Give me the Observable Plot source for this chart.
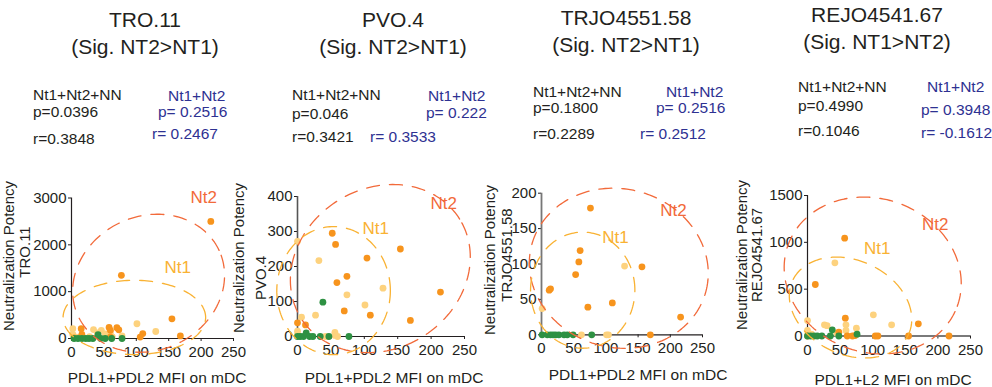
<!DOCTYPE html>
<html>
<head>
<meta charset="utf-8">
<script src="https://cdn.jsdelivr.net/npm/d3@7"></script>
<script src="https://cdn.jsdelivr.net/npm/@observablehq/plot@0.6"></script>
<style>
  html, body { margin: 0; padding: 0; background: #fff; }
  #root { position: relative; width: 992px; height: 387px; overflow: hidden; font-family: "Liberation Sans", Arial, sans-serif; color: #231F20; }
  .t { position: absolute; white-space: nowrap; line-height: 18px; }
  .title { font-size: 21px; transform: translate(-50%, -50%); line-height: 24px; }
  .st { font-size: 15.5px; transform: translateY(-50%); line-height: 14px; }
  .blue { color: #2E3192; }
  .rot { font-size: 15px; transform: translate(-50%, -50%) rotate(-90deg); }
  .xl { font-size: 15.5px; transform: translate(-50%, -50%); }
</style>
</head>
<body>
<div id="root"></div>
<script>
// ---------- data ----------
const panelNames = ["TRO.11", "PVO.4", "TRJO4551.58", "REJO4541.67"];
const sigLabels = ["(Sig. NT2>NT1)", "(Sig. NT2>NT1)", "(Sig. NT2>NT1)", "(Sig. NT1>NT2)"];
const xAxisTitles = ["PDL1+PDL2 MFI on mDC", "PDL1+PDL2 MFI on mDC", "PDL1+PDL2 MFI on mDC", "PDL1+L2 MFI on mDC"];
const allP = ["p=0.0396", "p=0.046", "p=0.1800", "p=0.4990"];
const allR = ["r=0.3848", "r=0.3421", "r=0.2289", "r=0.1046"];
const ntP = ["p= 0.2516", "p= 0.222", "p= 0.2516", "p= 0.3948"];
const ntR = ["r= 0.2467", "r= 0.3533", "r= 0.2512", "r= -0.1612"];
const xTicks = [0, 50, 100, 150, 200, 250];
const yTicks = [[0, 1000, 2000, 3000], [0, 100, 200, 300, 400], [0, 50, 100, 150, 200], [0, 500, 1000, 1500]];
const yMax = [3000, 400, 200, 1500];

// points [x, y] per group
const tro11Nt2 = [[215,2500],[77,1350],[155,420],[168,55],[110,105],[106,30],[15,210],[16,90],[58,235],[60,175],[70,230],[73,185],[4,15],[60,30]];
const tro11Nt1 = [[101,315],[130,150],[2,210],[2,85],[34,190],[46,175],[40,120],[52,100],[63,35],[60,120],[78,55],[8,30],[28,40]];
const tro11NN  = [[4,0],[10,0],[16,0],[22,0],[27,0],[33,0],[41,80],[45,0],[52,0],[62,0],[78,0]];

const pvo4Nt2 = [[52,295],[57,263],[154,250],[104,224],[74,172],[59,154],[214,127],[70,73],[109,61],[169,46],[0,39],[12,33]];
const pvo4Nt1 = [[0,272],[32,217],[128,138],[74,119],[101,90],[27,61],[6,55],[0,15],[0,5],[56,12],[56,3],[60,0],[42,0]];
const pvo4NN  = [[0,0],[4,0],[9,0],[13,10],[18,0],[23,0],[34,0],[47,0],[77,0],[38,98]];

const trjoNt2 = [[76,179],[60,119],[58,103],[156,96],[53,85],[14,65],[12,63],[72,39],[110,45],[216,25],[169,0]];
const trjoNt1 = [[129,97],[1,37],[62,0],[101,0],[104,0]];
const trjoNN  = [[1,0],[9,0],[14,0],[18,0],[22,0],[27,0],[35,0],[40,0],[49,0],[78,0]];

const rejoNt2 = [[57,1044],[12,550],[58,190],[170,130],[48,40],[61,0],[69,0],[73,5],[104,0],[108,0],[155,0],[217,0],[0,0]];
const rejoNt1 = [[42,781],[0,165],[101,226],[129,119],[26,119],[30,110],[59,119],[59,59],[75,83],[0,59],[6,20],[45,30]];
const rejoNN  = [[0,0],[5,0],[10,0],[15,0],[22,0],[35,0],[38,66],[48,0],[76,20]];

// ellipse annotations: [cx, cy, semi-axis x (data units), semi-axis y (data units), tilt deg]
const nt2Ellipses = [[119,1180,120,1430,25],[124,194,140,229,32],[120,94,140,112,-15],[100,646,138,820,-20]];
const nt1Ellipses = [[97,450,110,793,0],[54,131,85,183,0],[64,63,81,82,0],[66,304,98,502,-25]];
// group label anchors
const nt2Label = [[204,3020],[219,380],[205,175],[196,1190]];
const nt1Label = [[164,1520],[117,309],[115,137],[107,934]];

// ---------- layout ----------
const frames = [ // svg left, top, width, height, margins L R T B
  {left: 0,   top: 150, width: 250, height: 237, ml: 71, mr: 17, mt: 47.5, mb: 49},
  {left: 250, top: 150, width: 230, height: 237, ml: 47, mr: 16, mt: 46,   mb: 51},
  {left: 490, top: 150, width: 230, height: 237, ml: 51, mr: 18, mt: 42.7, mb: 52.7},
  {left: 760, top: 150, width: 232, height: 237, ml: 47, mr: 22, mt: 45,   mb: 51.5}
];
const axisColors = [["#231F20","#231F20",1.2,1.2],["#231F20","#555",1.2,1.6],["#231F20","#777",1.2,1.8],["#7a7a7a","#231F20",2.2,1.2]];

const groups = [
  [tro11Nt1, tro11Nt2, tro11NN],
  [pvo4Nt1, pvo4Nt2, pvo4NN],
  [trjoNt1, trjoNt2, trjoNN],
  [rejoNt1, rejoNt2, rejoNN]
];
const colNt1 = "#FDD27E", colNt2 = "#F7941D", colNN = "#2E9143";
const ellNt2 = "#F26A3A", ellNt1 = "#F9B233";

function ellipse(e, sx, sy, name) {
  const [cx, cy, a, b, deg] = e;
  const th = deg * Math.PI / 180;
  const out = [];
  for (let i = 0; i <= 180; i++) {
    const t = i / 180 * 2 * Math.PI;
    const dx = a * sx * Math.cos(t), dy = b * sy * Math.sin(t);
    const X = dx * Math.cos(th) - dy * Math.sin(th);
    const Y = dx * Math.sin(th) + dy * Math.cos(th);
    out.push({x: cx + X / sx, y: cy + Y / sy, name});
  }
  return out;
}

const root = document.getElementById("root");
function addText(cls, txt, left, top) {
  const d = document.createElement("div");
  d.className = "t " + cls;
  d.textContent = txt;
  d.style.left = left + "px";
  d.style.top = top + "px";
  root.appendChild(d);
}

frames.forEach((f, i) => {
  const W = f.width - f.ml - f.mr, H = f.height - f.mt - f.mb;
  const sx = W / 250, sy = H / yMax[i];
  const toRows = (arr, g) => arr.map(([x, y]) => ({x, y, g}));
  const [g1, g2, g3] = groups[i];
  const pts = [...toRows(g1, "Nt1"), ...toRows(g2, "Nt2"), ...toRows(g3, "NN")];
  const ell = [...ellipse(nt2Ellipses[i], sx, sy, "Nt2"), ...ellipse(nt1Ellipses[i], sx, sy, "Nt1")];
  const labels = [
    {x: nt2Label[i][0], y: nt2Label[i][1], t: "Nt2", c: ellNt2},
    {x: nt1Label[i][0], y: nt1Label[i][1], t: "Nt1", c: ellNt1}
  ];
  const [xc, yc, xw, yw] = axisColors[i];
  const svg = Plot.plot({
    width: f.width, height: f.height,
    marginLeft: f.ml, marginRight: f.mr, marginTop: f.mt, marginBottom: f.mb,
    style: {overflow: "visible", background: "transparent", fontFamily: "Liberation Sans, Arial, sans-serif", fontSize: "15px", color: "#231F20"},
    x: {domain: [0, 250], ticks: xTicks, tickSize: 3, tickPadding: 5, tickFormat: d => String(d), label: null},
    y: {domain: [0, yMax[i]], ticks: yTicks[i], tickSize: 3, tickPadding: 2, tickFormat: d => String(d), label: null},
    color: {domain: ["Nt1", "Nt2", "NN"], range: [colNt1, colNt2, colNN]},
    marks: [
      Plot.ruleY([0], {stroke: xc, strokeWidth: xw}),
      Plot.ruleX([0], {stroke: yc, strokeWidth: yw}),
      Plot.dot(pts, {x: "x", y: "y", fill: "g", r: 3.4}),
      Plot.line(ell, {x: "x", y: "y", z: "name", stroke: d => d.name === "Nt2" ? ellNt2 : ellNt1, strokeWidth: 1.3, strokeDasharray: "13,10"}),
      Plot.text(labels, {x: "x", y: "y", text: "t", fill: "c", fontSize: 17})
    ]
  });
  svg.style.position = "absolute";
  svg.style.left = f.left + "px";
  svg.style.top = f.top + "px";
  root.appendChild(svg);
});

// ---------- texts ----------
const titleX = [145, 393, 626, 877];
const titleY = [20, 20, 18, 15];
const statLX = [33, 292, 533, 798];
const statBX = [[168,158,152],[428,426,370],[666,656,640],[927,921,921]];
const statLY = [[95,112,139],[95,114,137],[92,108,134],[87,106,131]];
const statBY = [[96,112,134],[96,113,137],[92,108,134],[87,110,133]];
const yTitle1 = [[9,256],[239,258],[490,260],[742,255]];
const yTitle2 = [[25,252],[261,278],[507,255],[757,255]];
const xTitle = [[157,378],[394,378],[638,375],[893,380]];

for (let i = 0; i < 4; i++) {
  addText("title", panelNames[i], titleX[i], titleY[i]);
  addText("title", sigLabels[i], titleX[i], titleY[i] + 27);
  addText("st", "Nt1+Nt2+NN", statLX[i], statLY[i][0]);
  addText("st", allP[i], statLX[i], statLY[i][1]);
  addText("st", allR[i], statLX[i], statLY[i][2]);
  addText("st blue", "Nt1+Nt2", statBX[i][0], statBY[i][0]);
  addText("st blue", ntP[i], statBX[i][1], statBY[i][1]);
  addText("st blue", ntR[i], statBX[i][2], statBY[i][2]);
  addText("rot", "Neutralization Potency", yTitle1[i][0], yTitle1[i][1]);
  addText("rot", panelNames[i], yTitle2[i][0], yTitle2[i][1]);
  addText("xl", xAxisTitles[i], xTitle[i][0], xTitle[i][1]);
}
</script>
</body>
</html>
